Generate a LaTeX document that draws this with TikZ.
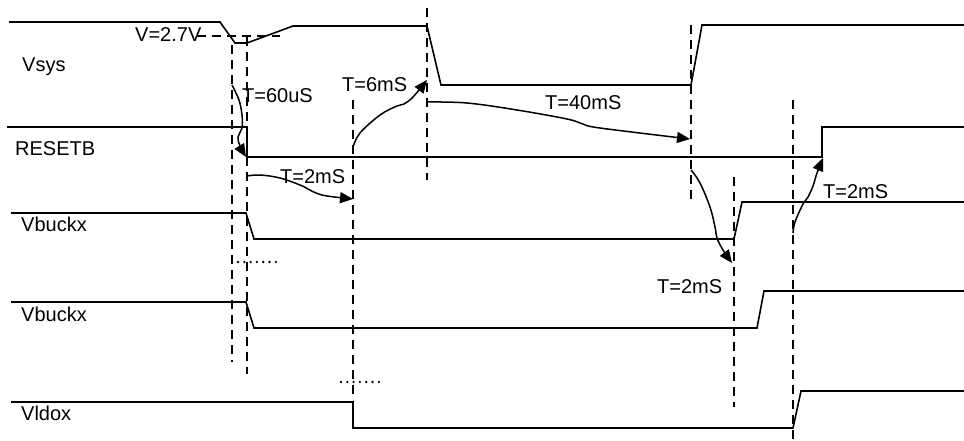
\documentclass[tikz,border=0pt]{standalone}
\usepackage{fontspec}
\setmainfont{Liberation Sans}
\usetikzlibrary{arrows.meta}
\begin{document}
\begin{tikzpicture}[x=1pt,y=-1pt,
  sig/.style={line width=1.6pt},
  guide/.style={line width=1.5pt,dash pattern=on 9pt off 6pt},
  dots/.style={line width=2.6pt,line cap=round,dash pattern=on 0pt off 6.3pt},
  timing/.style={line width=1.5pt,-{Triangle[length=13pt,width=11pt]}},
  lbl/.style={anchor=base west,inner sep=0pt,font=\fontsize{20}{24}\selectfont}]
\useasboundingbox (0,0) rectangle (964,441);
% signal names
\node[lbl] (nVsys) at (22,72) {Vsys};
\node[lbl] (nReset) at (15,156) {RESETB};
\node[lbl] (nBuck1) at (21,231) {Vbuckx};
\node[lbl] (nBuck2) at (21,321) {Vbuckx};
\node[lbl] (nLdo) at (21,420) {Vldox};
% waveforms
\draw[sig] (9,22) -- (220,22) -- (235,43) -- (247,43) -- (293,26) -- (427,26) -- (441,85) -- (691,85) -- (702,25) -- (964,25);
\draw[sig] (7,127) -- (247,127) -- (247,157) -- (822,157) -- (822,127) -- (964,127);
\draw[sig] (11,213) -- (246,213) -- (254,239) -- (734,239) -- (742,202) -- (964,202);
\draw[sig] (11,302) -- (246,302) -- (254,328) -- (757,328) -- (764,291) -- (964,291);
\draw[sig] (11,402) -- (353,402) -- (353,428) -- (793,428) -- (801,391) -- (964,391);
% threshold
\node[lbl] (nThr) at (135,42) {V=2.7V};
\draw[guide] (197,36) -- (280,36);
% guide lines
\draw[guide] (232,45) -- (232,362);
\draw[guide] (247,37) -- (247,374);
\draw[guide] (353,100) -- (353,400);
\draw[guide] (427,8) -- (427,180);
\draw[guide] (691,25) -- (691,200);
\draw[guide] (734,177) -- (734,407);
\draw[guide] (793,100) -- (793,441);
% ellipsis dots
\draw[dots] (238,262) -- (277,262);
\draw[dots] (341,382) -- (380,382);
% timing labels
\node[lbl] (t60) at (242,103) {T=60uS};
\node[lbl] (t6) at (342,92) {T=6mS};
\node[lbl] (t40) at (545,110) {T=40mS};
\node[lbl] (t2a) at (280,183) {T=2mS};
\node[lbl] (t2b) at (823,198) {T=2mS};
\node[lbl] (t2c) at (657,293) {T=2mS};
% timing arrows
\coordinate (a1s) at (232,85);  \coordinate (a1e) at (246,157);
\coordinate (a2s) at (353,147); \coordinate (a2e) at (427,80);
\coordinate (a3s) at (427,102); \coordinate (a3e) at (690,139);
\coordinate (a4s) at (247,176); \coordinate (a4e) at (353,199);
\coordinate (a5s) at (691,170); \coordinate (a5e) at (732,263);
\coordinate (a6s) at (793,233); \coordinate (a6e) at (823,158);
\draw[timing] plot[smooth,tension=0.6] coordinates {(a1s) (239,100) (242,115) (242,128) (238,137) (240,146) (a1e)};
\draw[timing] plot[smooth,tension=0.6] coordinates {(a2s) (360,133) (380,115) (397,106) (404,104) (413,97) (a2e)};
\draw[timing] plot[smooth,tension=0.6] coordinates {(a3s) (467,103) (517,110) (567,119) (583,124) (600,128) (a3e)};
\draw[timing] plot[smooth,tension=0.6] coordinates {(a4s) (260,175) (280,178) (300,185) (308,189) (316,193) (327,196) (a4e)};
\draw[timing] plot[smooth,tension=0.6] coordinates {(a5s) (700,183) (710,207) (715,227) (717,238) (723,250) (a5e)};
\draw[timing] plot[smooth,tension=0.6] coordinates {(a6s) (795,222) (803,204) (808,197) (813,186) (817,173) (a6e)};
\end{tikzpicture}
\end{document}
